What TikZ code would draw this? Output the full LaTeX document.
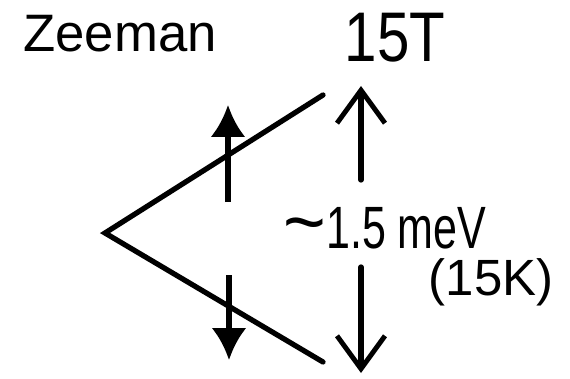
\documentclass[tikz,border=0pt]{standalone}
\usepackage{fontspec}
\usepackage{graphicx}
\setmainfont{Liberation Sans}
\usetikzlibrary{arrows.meta}

\begin{document}
\begin{tikzpicture}[
  x=0.02cm,y=-0.02cm,
  line width=3pt,
  level/.style={draw,line cap=round},
  spinarrow/.style={draw,-{Latex[length=6.4mm,width=7mm]}},
  gaparrow/.style={draw,line cap=round,-{Straight Barb[length=6.6mm,width=9.6mm,line width=2.8pt]}},
  label/.style={inner sep=0pt,anchor=center}
]
\useasboundingbox (0,0) rectangle (570,378);

% Zeeman splitting of a level in the field
\coordinate (split) at (105,233);
\coordinate (upper) at (323,95);
\coordinate (lower) at (323,362);
\draw[level] (upper) -- (split) -- (lower);

% spins
\coordinate (su0) at (228,202);
\coordinate (su1) at (228,105);
\coordinate (sd0) at (229,275);
\coordinate (sd1) at (229,360);
\draw[spinarrow] (su0) -- (su1);
\draw[spinarrow] (sd0) -- (sd1);

% size of the gap
\coordinate (eu0) at (361,180);
\coordinate (eu1) at (361,86);
\coordinate (ed0) at (361,267);
\coordinate (ed1) at (361,373);
\draw[gaparrow] (eu0) -- (eu1);
\draw[gaparrow] (ed0) -- (ed1);

\node[label,font=\fontsize{30}{32}\selectfont] (zeeman) at (120,34) {Zeeman};
\node[label,font=\fontsize{40}{42}\selectfont] (field) at (395,38) {\scalebox{0.83}[1]{15T}};
\node[label,font=\fontsize{34}{36}\selectfont] (gap) at (385,228)
  {\scalebox{0.72}[1]{\scalebox{1.7}[1.3]{\textasciitilde}1.5 meV}};
\node[label,font=\fontsize{29}{31}\selectfont] (temp) at (491,282) {(15K)};
\end{tikzpicture}
\end{document}
